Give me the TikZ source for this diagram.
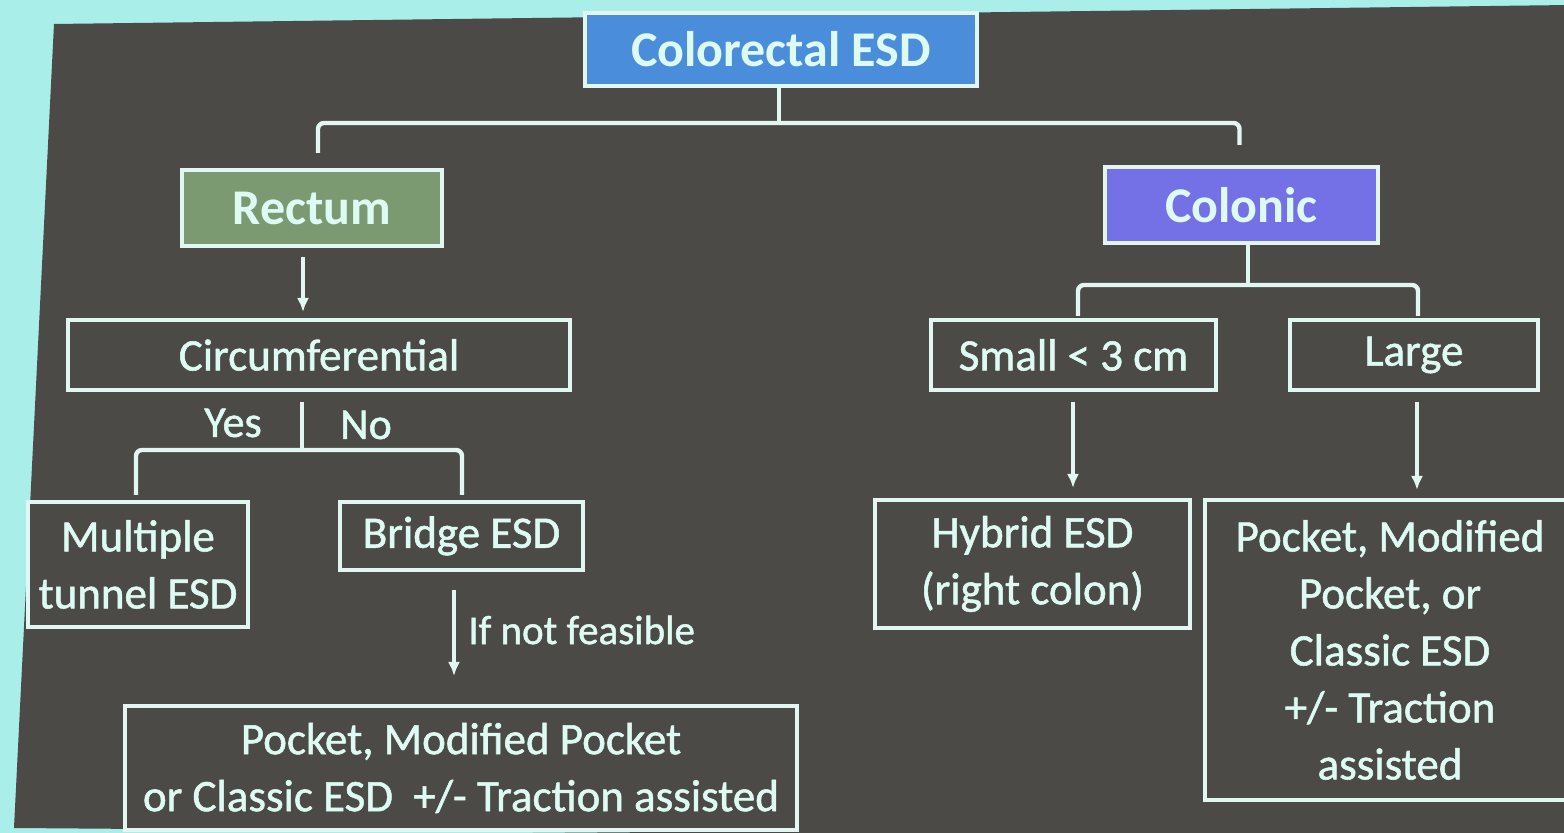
\documentclass[tikz,border=0pt]{standalone}
\usepackage{fontspec}
\setmainfont{Carlito}
\newfontfamily\medfont{Carlito}[FakeBold=1.2]
\usetikzlibrary{arrows.meta,calc}
\definecolor{bgcyan}{HTML}{A9EEE9}
\definecolor{slide}{HTML}{4B4A46}
\definecolor{linec}{HTML}{E2F7F1}
\definecolor{txtc}{HTML}{DDFAF3}
\definecolor{titleblue}{HTML}{4A8EDB}
\definecolor{rectgreen}{HTML}{7B9A72}
\definecolor{colviolet}{HTML}{7470E6}
\begin{document}
\begin{tikzpicture}[x=0.5pt,y=-0.5pt,
  conn/.style={draw=linec,line width=2.2pt,rounded corners=3pt},
  arr/.style={conn,-{Latex[length=7pt,width=6pt]}},
  box/.style={draw=linec,line width=2pt,text=txtc,font=\medfont\fontsize{22.5}{28.5}\selectfont,align=center,inner sep=0pt},
  head/.style={box,font=\fontsize{25}{30}\selectfont\bfseries},
  lbl/.style={text=txtc,font=\medfont\fontsize{22}{26}\selectfont,inner sep=0pt}]
\useasboundingbox (0,0) rectangle (1564,833);
\clip (0,0) rectangle (1564,833);
\fill[bgcyan] (0,0) rectangle (1564,833);
\fill[slide] (54,24) -- (1570,5) -- (1570,840) -- (14,828) -- cycle;

% nodes
\node[head,fill=titleblue,minimum width=196pt,minimum height=36.5pt] (ttl) at (781,49.5) {Colorectal ESD};
\node[head,fill=rectgreen,minimum width=130pt,minimum height=38pt] (rect) at (312,208) {Rectum};
\node[head,fill=colviolet,minimum width=136.5pt,minimum height=38pt] (col) at (1241.5,205) {Colonic};
\node[box,minimum width=251pt,minimum height=35pt] (circ) at (319,355) {Circumferential};
\node[box,minimum width=110pt,minimum height=62.5pt] (mult) at (138,564.5) {Multiple\\tunnel ESD};
\node[box,minimum width=121.5pt,minimum height=34pt] (bridge) at (461.5,536) {Bridge ESD};
\node[box,minimum width=336pt,minimum height=62pt] (bot) at (461,768) {Pocket, Modified Pocket\\or Classic ESD\ \ +/- Traction assisted};
\node[box,minimum width=142.5pt,minimum height=35pt] (small) at (1073.5,355) {Small < 3 cm};
\node[box,minimum width=124pt,minimum height=35pt] (large) at (1414,355) {Large};
\node[box,minimum width=157.5pt,minimum height=64pt] (hyb) at (1032.5,564) {Hybrid ESD\\(right colon)};
\node[box,minimum width=185pt,minimum height=150pt] (pock) at (1390,650) {Pocket, Modified\\Pocket, or\\Classic ESD\\+/- Traction\\assisted};

\node[lbl] (yes) at (233,423) {Yes};
\node[lbl] (no) at (366,425) {No};
\node[lbl,font=\medfont\fontsize{20.5}{24}\selectfont,anchor=west] (nf) at (468,630) {If not feasible};

% connectors
\coordinate (j1) at (779,123);
\draw[conn] (ttl.south -| j1) -- (j1);
\draw[conn] ($(rect.north)+(6,-15)$) |- (j1) -| ($(col.north)+(-2,-20)$);

\draw[arr] ($(rect.south)+(-9,9)$) -- ($(circ.north -| rect.south)+(-9,-6)$);

\coordinate (j2) at (302,450);
\draw[conn] (circ.south -| j2) ++(0,10) -- (j2);
\draw[conn] ($(mult.north)+(-2,-5)$) |- (j2) -| ($(bridge.north)+(0.5,-5)$);

\draw[arr] ($(bridge.south)+(-7.5,18)$) -- ($(bot.north -| bridge.south)+(-7.5,-28)$);

\coordinate (j3) at (1248,285);
\draw[conn] (col.south -| j3) -- (j3);
\draw[conn] ($(small.north)+(4.5,-2)$) |- (j3) -| ($(large.north)+(4,-2)$);

\draw[arr] ($(small.south)+(-0.5,10)$) -- ($(hyb.north -| small.south)+(-0.5,-10)$);
\draw[arr] ($(large.south)+(3,10)$) -- ($(pock.north -| large.south)+(3,-8)$);
\end{tikzpicture}
\end{document}
